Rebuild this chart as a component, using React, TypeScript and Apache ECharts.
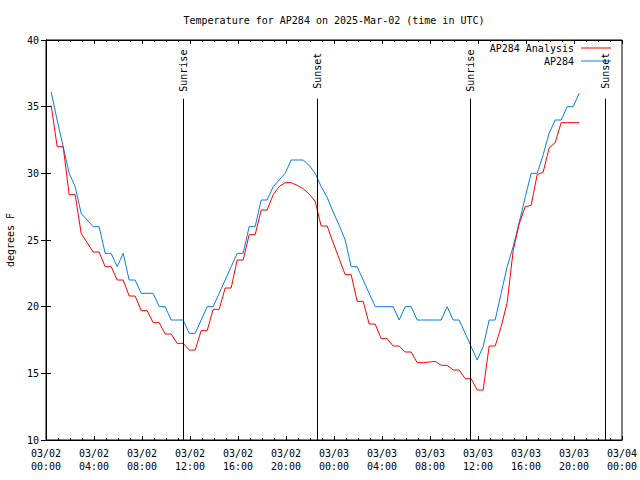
import React, { useEffect, useRef } from "react";
import * as echarts from "echarts";

const titleText = "Temperature for AP284 on 2025-Mar-02 (time in UTC)";
const yAxisName = "degrees F";
const analysisName = "AP284 Analysis";
const observedName = "AP284";

// Observation grid: half-hourly samples starting at 00:26 on 03/02 (hours since 03/02 00:00)
const firstSampleHour = 0.43;
const sampleStepHours = 0.5;

const analysisValues = [
  35.1, 32, 32, 28.4, 28.4, 25.5, 24.8, 24.1, 24.1, 23, 23, 22, 22, 20.8, 20.8,
  19.7, 19.7, 18.8, 18.8, 17.95, 17.95, 17.25, 17.25, 16.75, 16.75, 18.2, 18.2,
  19.8, 19.8, 21.4, 21.4, 23.5, 23.5, 25.4, 25.4, 27.25, 27.25, 28.4, 29, 29.3,
  29.3, 29.1, 28.85, 28.45, 27.9, 26.05, 26.05, 24.8, 23.6, 22.4, 22.4, 20.4,
  20.4, 18.7, 18.7, 17.6, 17.6, 17.05, 17.05, 16.6, 16.6, 15.8, 15.8, 15.85,
  15.9, 15.6, 15.6, 15.25, 15.25, 14.6, 14.6, 13.75, 13.75, 17.05, 17.05, 18.5,
  20.3, 24.2, 26.2, 27.5, 27.6, 29.9, 30.1, 31.9, 32.3, 33.8, 33.8, 33.8, 33.8,
];

const observedValues = [
  36.1, 34, 32, 30, 29, 27, 26.5, 26, 26, 24, 24, 23, 24, 22, 22, 21, 21, 21, 20,
  20, 19, 19, 19, 18, 18, 19, 20, 20, 21, 22, 23, 24, 24, 26, 26, 28, 28, 29,
  29.5, 30, 31, 31, 31, 30.6, 30, 29, 28.2, 27.1, 26.1, 25, 23, 23, 22, 21, 20,
  20, 20, 20, 19, 20, 20, 19, 19, 19, 19, 19, 20, 19, 19, 18, 17, 16, 17, 19, 19,
  21, 23, 24.5, 26.3, 28.2, 30, 30, 31.4, 33, 34, 34, 35, 35, 36,
];

const sunEventLabels = ["Sunrise", "Sunset", "Sunrise", "Sunset"];
const sunEventHours = [11.43, 22.62, 35.38, 46.62];

const xMin = 0;
const xMax = 48;
const xTickStep = 4;
const yMin = 10;
const yMax = 40;
const yTickStep = 5;
const eventLineTop = 35.6;
const eventLabelTop = 39.8;

const FONT = "DejaVu Sans Mono";
const RED = "#ff0000";
const BLUE = "#0a7cf0";

const GRID_LEFT = 46;
const GRID_RIGHT = 18;
const CHART_W = 640;

function hourLabel(v: number): string {
  const day = 2 + Math.floor(v / 24);
  const hr = Math.round(v % 24);
  return `03/${String(day).padStart(2, "0")}\n${String(hr).padStart(2, "0")}:00`;
}

export default function App() {
  const ref = useRef<HTMLDivElement>(null);
  useEffect(() => {
    if (!ref.current) return;
    const chart = echarts.init(ref.current, undefined, { renderer: "svg" });

    const times = analysisValues.map((_, i) => firstSampleHour + i * sampleStepHours);
    const analysisData = times.map((t, i) => [t, analysisValues[i]]);
    const observedData = times.map((t, i) => [t, observedValues[i]]);

    const markData: any[] = [];
    sunEventHours.forEach((h, i) => {
      markData.push([
        { coord: [h, yMin], lineStyle: { color: "#000", width: 1, type: "solid" }, label: { show: false } },
        { coord: [h, eventLineTop] },
      ]);
      markData.push([
        {
          coord: [h, eventLineTop],
          lineStyle: { color: "rgba(0,0,0,0)", width: 1, type: "solid" },
          label: {
            show: true,
            position: "insideMiddle",
            formatter: sunEventLabels[i],
            color: "#000",
            opacity: 1,
            fontFamily: FONT,
            fontSize: 10,
            distance: 0,
          },
        },
        { coord: [h, eventLabelTop] },
      ]);
    });

    const commonX = {
      type: "value",
      min: xMin,
      max: xMax,
      interval: xTickStep,
      splitLine: { show: false },
      axisLine: { lineStyle: { color: "#000", width: 1 } },
      axisTick: { inside: true, length: 4, lineStyle: { color: "#000" } },
      minorTick: { show: true, splitNumber: 4, length: 2, lineStyle: { color: "#000" } },
    };
    const commonY = {
      type: "value",
      min: yMin,
      max: yMax,
      interval: yTickStep,
      splitLine: { show: false },
      axisLine: { lineStyle: { color: "#000", width: 1 } },
      axisTick: { inside: true, length: 5, lineStyle: { color: "#000" } },
    };

    const legendCommon = {
      right: 29,
      padding: 0,
      align: "right",
      icon: "rect",
      itemWidth: 30,
      itemHeight: 1,
      textStyle: { fontFamily: FONT, fontSize: 10, color: "#000", padding: [0, 2, 0, 0] },
    };

    chart.setOption({
      animation: false,
      backgroundColor: "#fff",
      textStyle: { fontFamily: FONT, fontSize: 10, color: "#000" },
      title: {
        text: titleText,
        left: (GRID_LEFT + (CHART_W - GRID_RIGHT)) / 2,
        textAlign: "center",
        top: 14,
        padding: 0,
        textStyle: { fontFamily: FONT, fontSize: 10, fontWeight: "normal", color: "#000", lineHeight: 12 },
      },
      legend: [
        { ...legendCommon, data: [analysisName], top: 43 },
        { ...legendCommon, data: [observedName], top: 56 },
      ],
      grid: {
        left: GRID_LEFT,
        right: GRID_RIGHT,
        top: 40,
        bottom: 40,
        containLabel: false,
        outerBoundsMode: "none",
        show: true,
        borderColor: "#000",
        borderWidth: 1,
        backgroundColor: "transparent",
      },
      xAxis: [
        {
          ...commonX,
          position: "bottom",
          axisLabel: {
            formatter: (v: number) => hourLabel(v),
            fontFamily: FONT,
            fontSize: 10,
            color: "#000",
            lineHeight: 13,
            margin: 7,
          },
        },
        { ...commonX, position: "top", axisLabel: { show: false } },
      ],
      yAxis: [
        {
          ...commonY,
          position: "left",
          name: yAxisName,
          nameLocation: "middle",
          nameRotate: 90,
          nameGap: 31,
          nameTextStyle: { fontFamily: FONT, fontSize: 10, color: "#000" },
          axisLabel: { fontFamily: FONT, fontSize: 10, color: "#000", margin: 7 },
        },
        { ...commonY, position: "right", axisLabel: { show: false } },
      ],
      series: [
        {
          name: analysisName,
          type: "line",
          data: analysisData,
          symbol: "none",
          lineStyle: { color: RED, width: 1 },
          itemStyle: { color: RED },
          z: 3,
          markLine: {
            silent: true,
            symbol: ["none", "none"],
            animation: false,
            label: { show: false },
            emphasis: { disabled: true },
            data: markData,
          },
        },
        {
          name: observedName,
          type: "line",
          data: observedData,
          symbol: "none",
          lineStyle: { color: BLUE, width: 1 },
          itemStyle: { color: BLUE },
          z: 2,
        },
      ],
    });
    return () => chart.dispose();
  }, []);
  return <div ref={ref} style={{ position: "fixed", left: 0, top: 0, width: 640, height: 480 }} />;
}
